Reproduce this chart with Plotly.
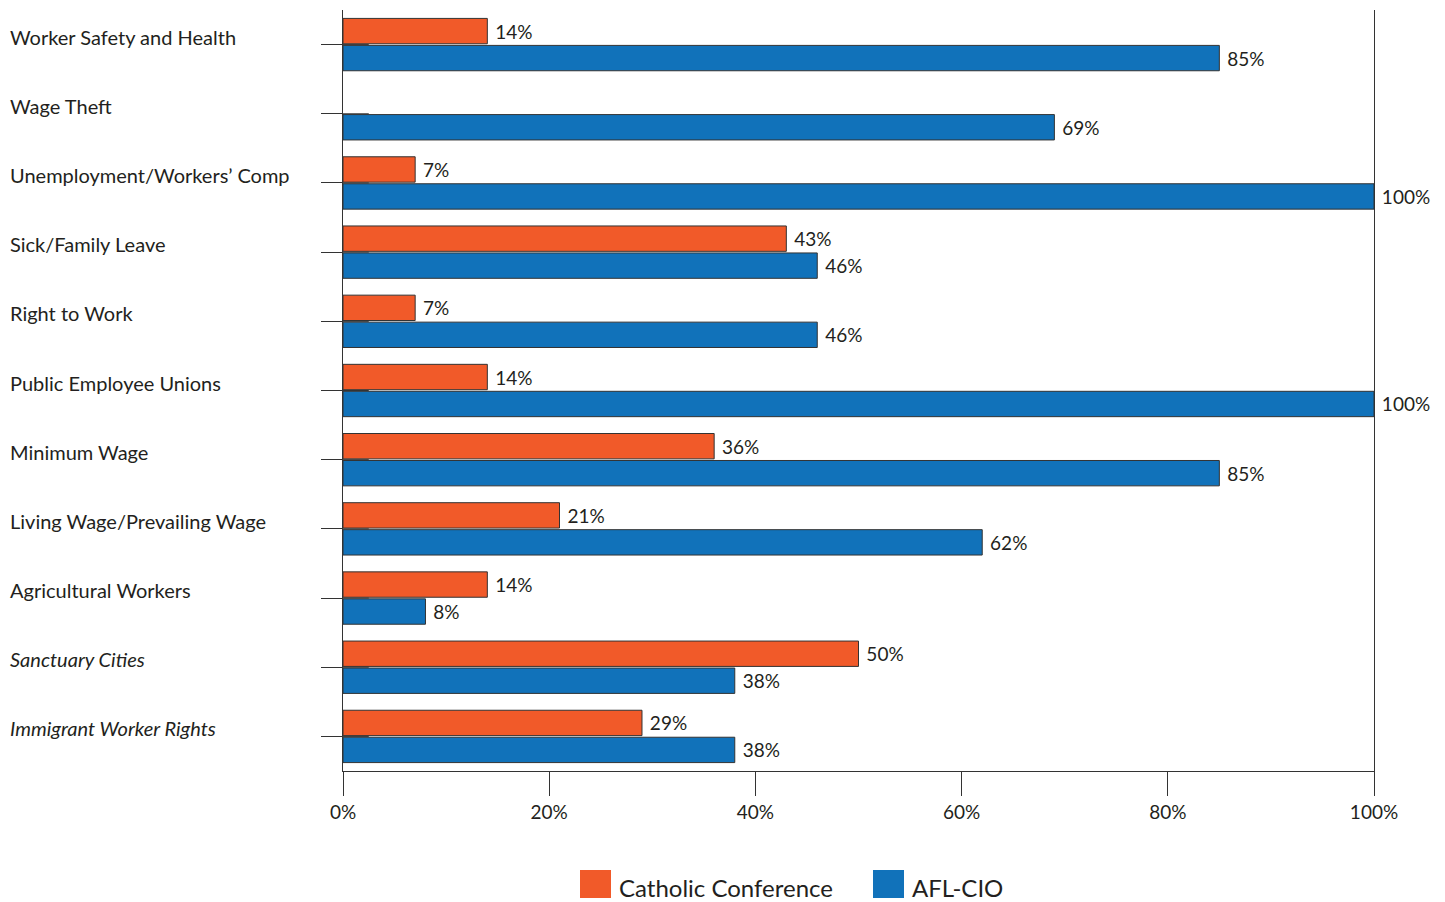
import plotly.graph_objects as go

categories = [
    "Worker Safety and Health",
    "Wage Theft",
    "Unemployment/Workers\u2019 Comp",
    "Sick/Family Leave",
    "Right to Work",
    "Public Employee Unions",
    "Minimum Wage",
    "Living Wage/Prevailing Wage",
    "Agricultural Workers",
    "Sanctuary Cities",
    "Immigrant Worker Rights",
]
italic_categories = ["Sanctuary Cities", "Immigrant Worker Rights"]
catholic = [14, None, 7, 43, 7, 14, 36, 21, 14, 50, 29]
aflcio = [85, 69, 100, 46, 46, 100, 85, 62, 8, 38, 38]
x_ticks = [0, 20, 40, 60, 80, 100]
x_tick_labels = ["0%", "20%", "40%", "60%", "80%", "100%"]
series_names = ["Catholic Conference", "AFL-CIO"]
colors = ["#F15A29", "#1172BA"]

FONT = "Lato"
TXT = "#231F20"

def labels(vals):
    return ["" if v is None else f"\u00a0{v}%" for v in vals]

fig = go.Figure()
for name, vals, col in zip(series_names, [catholic, aflcio], colors):
    fig.add_trace(go.Bar(
        y=categories, x=vals, orientation="h", name=name,
        marker=dict(color=col, line=dict(color="#333333", width=1)),
        text=labels(vals), textposition="outside", cliponaxis=False,
        constraintext="none",
        textfont=dict(family=FONT, size=19, color=TXT),
        showlegend=False,
    ))

L, R, T, B = 343, 71, 10, 131
W, H = 1445, 902
pw, ph = W - L - R, H - T - B

# category labels (left aligned)
ann = []
for c in categories:
    t = f"<i>{c}</i>" if c in italic_categories else c
    ann.append(dict(x=(8 - L) / pw, xref="paper", y=c, yref="y", text=t,
                    showarrow=False, xanchor="left", yanchor="middle", yshift=8,
                    font=dict(family=FONT, size=20, color=TXT)))

shapes = []
# inner tick segments
for i, c in enumerate(categories):
    shapes.append(dict(type="line", xref="x", yref="y", x0=0, x1=2.5, y0=i, y1=i,
                       line=dict(color="#333333", width=1)))

# custom legend
def px_x(x):
    return (x - L) / pw

def px_y(y):
    return (H - B - y) / ph

leg = [(580, 611, 617), (873, 904, 910)]
for (x0, x1, tx), name, col in zip(leg, series_names, colors):
    shapes.append(dict(type="rect", xref="paper", yref="paper",
                       x0=px_x(x0), x1=px_x(x1), y0=px_y(898), y1=px_y(870),
                       fillcolor=col, line=dict(width=0)))
    ann.append(dict(x=px_x(tx), xref="paper", y=px_y(887), yref="paper", text=name,
                    showarrow=False, xanchor="left", yanchor="middle",
                    font=dict(family=FONT, size=24, color=TXT)))

fig.update_layout(
    width=W, height=H,
    margin=dict(l=L, r=R, t=T, b=B),
    paper_bgcolor="white", plot_bgcolor="white",
    barmode="group", bargap=0.22, bargroupgap=0.06,
    annotations=ann, shapes=shapes,
    xaxis=dict(range=[0, 100], tickvals=x_ticks, ticktext=x_tick_labels,
               showgrid=False, zeroline=False, showline=True, linecolor="#333333",
               linewidth=1, ticks="outside", ticklen=24, tickcolor="#333333",
               tickfont=dict(family=FONT, size=19, color=TXT)),
    yaxis=dict(categoryorder="array", categoryarray=categories, autorange="reversed",
               showgrid=False, zeroline=False, showline=True, mirror=True,
               linecolor="#333333", linewidth=1, ticks="outside", ticklen=21,
               tickcolor="#333333", showticklabels=False),
)

fig.write_html("out.html")
